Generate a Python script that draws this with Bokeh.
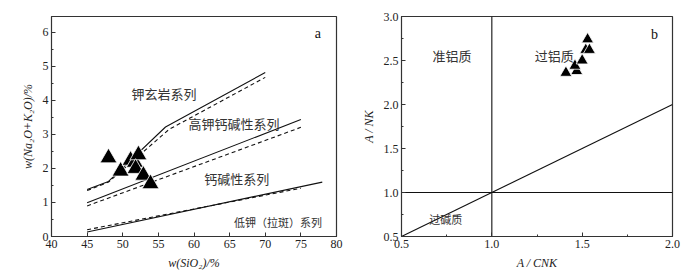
from bokeh.plotting import figure
from bokeh.layouts import row
from bokeh.models import SingleIntervalTicker, PrintfTickFormatter, Label
from bokeh.embed import file_html
from bokeh.resources import INLINE

# ---------- data: panel a ----------
sho_solid_x = [45, 48, 56, 70]
sho_solid_y = [1.38, 1.62, 3.22, 4.82]
sho_dash_x = [45, 48, 56.5, 70]
sho_dash_y = [1.35, 1.60, 3.15, 4.68]
hkca_solid_x = [45, 75]
hkca_solid_y = [0.99, 3.44]
hkca_dash_x = [45, 75]
hkca_dash_y = [0.90, 3.21]
lowk_solid_x = [45, 78]
lowk_solid_y = [0.13, 1.60]
lowk_dash_x = [45, 75]
lowk_dash_y = [0.20, 1.42]
a_sio2 = [48.0, 49.7, 51.1, 51.7, 52.2, 51.8, 52.9, 53.9]
a_alk = [2.31, 1.92, 2.24, 2.18, 2.40, 2.00, 1.80, 1.55]

# ---------- data: panel b ----------
b_acnk = [1.41, 1.47, 1.46, 1.50, 1.53, 1.52, 1.54]
b_ank = [2.36, 2.38, 2.44, 2.50, 2.74, 2.62, 2.62]
ref_x = [0.5, 2.0]
ref_y = [0.5, 2.0]

SERIF = "Liberation Serif"
CJK = "Noto Sans CJK SC"
AX = "#333333"


def style(p):
    p.outline_line_color = AX
    p.outline_line_width = 1.2
    p.xgrid.visible = False
    p.ygrid.visible = False
    for ax in (p.xaxis[0], p.yaxis[0]):
        ax.axis_line_color = AX
        ax.major_tick_line_color = AX
        ax.minor_tick_line_color = AX
        ax.major_tick_in = 4
        ax.major_tick_out = 0
        ax.minor_tick_in = 2
        ax.minor_tick_out = 0
        ax.major_label_text_font = SERIF
        ax.major_label_text_font_size = "12px"
        ax.major_label_text_color = "#222222"
        ax.axis_label_text_font = SERIF
        ax.axis_label_text_font_size = "12px"
        ax.axis_label_text_font_style = "italic"
        ax.axis_label_text_color = "#222222"
        ax.major_label_standoff = 3
        ax.axis_label_standoff = 5


# ---------- panel a ----------
p1 = figure(width=350, height=273, x_range=(40, 80), y_range=(0, 6.47),
            output_backend="svg", toolbar_location=None,
            min_border_left=51, min_border_right=14, min_border_top=14, min_border_bottom=37)
style(p1)
p1.xaxis[0].ticker = SingleIntervalTicker(interval=5, num_minor_ticks=0)
p1.yaxis[0].ticker = SingleIntervalTicker(interval=1, num_minor_ticks=2)
p1.xaxis[0].axis_label = "w(SiO₂)/%"
p1.yaxis[0].axis_label = "w(Na₂O+K₂O)/%"

for xs, ys, dash in [(sho_solid_x, sho_solid_y, "solid"), (sho_dash_x, sho_dash_y, "4 3"),
                     (hkca_solid_x, hkca_solid_y, "solid"), (hkca_dash_x, hkca_dash_y, "4 3"),
                     (lowk_solid_x, lowk_solid_y, "solid"), (lowk_dash_x, lowk_dash_y, "4 3")]:
    p1.line(xs, ys, line_color="#111111", line_width=1.1, line_dash=dash)

p1.scatter(a_sio2, a_alk, marker="triangle", size=17, fill_color="black",
           line_color="white", line_width=0.8)

for txt, x, y, fs in [("钾玄岩系列", 55.8, 4.2, "13px"), ("高钾钙碱性系列", 65.6, 3.33, "13px"),
                      ("钙碱性系列", 66.0, 1.7, "13px"), ("低钾（拉斑）系列", 71.8, 0.44, "11px")]:
    p1.add_layout(Label(x=x, y=y, text=txt, text_font=CJK, text_font_size=fs,
                        text_color="#333333", text_align="center", text_baseline="middle"))
p1.add_layout(Label(x=77.4, y=5.98, text="a", text_font=SERIF, text_font_size="14px",
                    text_color="#111111", text_align="center", text_baseline="middle"))

# ---------- panel b ----------
p2 = figure(width=342, height=273, x_range=(0.5, 2.0), y_range=(0.5, 3.0),
            output_backend="svg", toolbar_location=None,
            min_border_left=51, min_border_right=20, min_border_top=16, min_border_bottom=35)
style(p2)
p2.xaxis[0].ticker = SingleIntervalTicker(interval=0.5, num_minor_ticks=2)
p2.yaxis[0].ticker = SingleIntervalTicker(interval=0.5, num_minor_ticks=2)
p2.xaxis[0].formatter = PrintfTickFormatter(format="%.1f")
p2.yaxis[0].formatter = PrintfTickFormatter(format="%.1f")
p2.xaxis[0].axis_label = "A / CNK"
p2.yaxis[0].axis_label = "A / NK"

p2.line(ref_x, ref_y, line_color="#111111", line_width=1.1)
p2.line([1.0, 1.0], [0.5, 3.0], line_color="#111111", line_width=1.1)
p2.line([0.5, 2.0], [1.0, 1.0], line_color="#111111", line_width=1.1)

p2.scatter(b_acnk, b_ank, marker="triangle", size=12, fill_color="black",
           line_color="white", line_width=0.8)

for txt, x, y, fs in [("准铝质", 0.78, 2.56, "13px"), ("过铝质", 1.345, 2.56, "13px"),
                      ("过碱质", 0.745, 0.70, "11px")]:
    p2.add_layout(Label(x=x, y=y, text=txt, text_font=CJK, text_font_size=fs,
                        text_color="#333333", text_align="center", text_baseline="middle"))
p2.add_layout(Label(x=1.90, y=2.80, text="b", text_font=SERIF, text_font_size="14px",
                    text_color="#111111", text_align="center", text_baseline="middle"))

layout = row(p1, p2)
open("out.html", "w").write(file_html(layout, INLINE))
